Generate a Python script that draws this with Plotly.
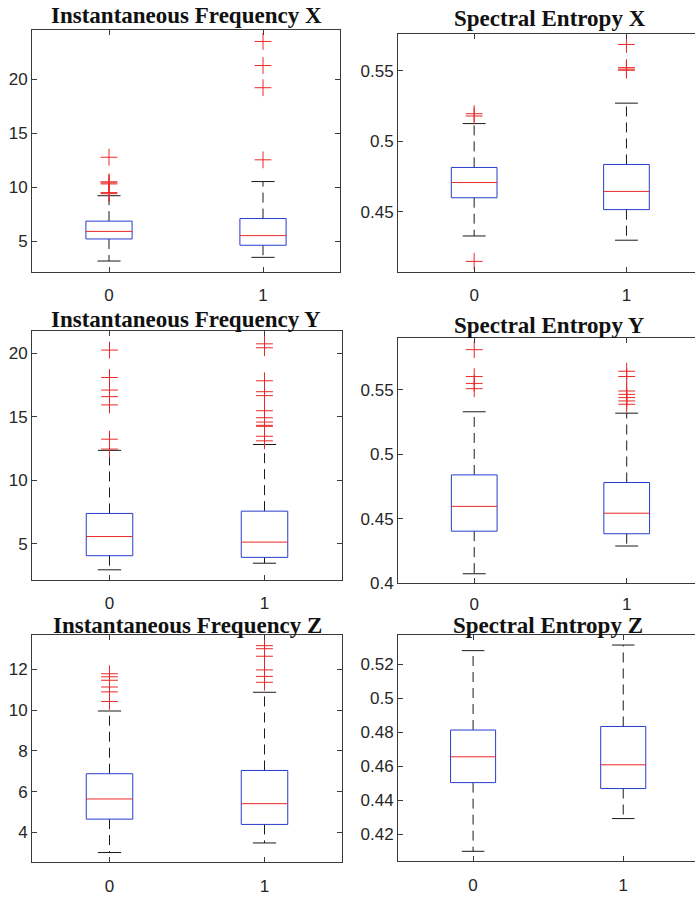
import plotly.graph_objects as go

W, H = 695, 899

titles = ["Instantaneous Frequency X", "Spectral Entropy X",
          "Instantaneous Frequency Y", "Spectral Entropy Y",
          "Instantaneous Frequency Z", "Spectral Entropy Z"]
groups = [0, 1]
group_labels = ["0", "1"]

# per panel: [group0, group1]
q1 = [[5.21, 4.63], [0.4598, 0.4514], [4.06, 3.93], [0.4405, 0.4385], [4.65, 4.39], [0.4504, 0.4469]]
med = [[5.91, 5.52], [0.4706, 0.4643], [5.57, 5.13], [0.4597, 0.4544], [5.64, 5.41], [0.4656, 0.4609]]
q3 = [[6.86, 7.10], [0.4813, 0.4834], [7.39, 7.57], [0.4841, 0.4782], [6.88, 7.04], [0.4814, 0.4835]]
lo_whisk = [[3.17, 3.51], [0.4327, 0.4297], [2.95, 3.47], [0.4075, 0.4290], [3.01, 3.48], [0.4099, 0.4292]]
hi_whisk = [[9.21, 10.52], [0.5124, 0.5269], [12.36, 12.82], [0.5330, 0.5319], [9.96, 10.88], [0.5282, 0.5315]]
outliers = [
    [[12.77, 10.5, 10.4, 10.3, 9.5, 9.4], [23.48, 21.25, 19.2, 12.53]],
    [[0.5194, 0.5178, 0.4147], [0.5685, 0.5521, 0.5510, 0.5502]],
    [[20.26, 18.1, 17.11, 16.59, 15.94, 13.24, 12.46],
     [20.75, 20.44, 17.84, 16.98, 16.67, 15.48, 14.93, 14.59, 14.33, 14.25, 13.47, 13.11]],
    [[0.5811, 0.5603, 0.5550, 0.5509], [0.5644, 0.5603, 0.5491, 0.5465, 0.5440, 0.5414, 0.5388]],
    [[11.79, 11.64, 11.47, 11.14, 10.9, 10.43], [13.17, 13.02, 12.65, 11.98, 11.66, 11.37]],
    [[], []],
]
y_ranges = [[2.16, 24.57], [0.4072, 0.5762], [2.11, 21.74], [0.400, 0.590], [2.53, 13.70], [0.404, 0.5375]]
y_tickvals = [[5, 10, 15, 20], [0.45, 0.5, 0.55], [5, 10, 15, 20], [0.4, 0.45, 0.5, 0.55],
              [4, 6, 8, 10, 12], [0.42, 0.44, 0.46, 0.48, 0.5, 0.52]]
y_ticktext = [["5", "10", "15", "20"], ["0.45", "0.5", "0.55"], ["5", "10", "15", "20"],
              ["0.4", "0.45", "0.5", "0.55"], ["4", "6", "8", "10", "12"],
              ["0.42", "0.44", "0.46", "0.48", "0.5", "0.52"]]

# layout geometry (pixels)
px_boxes = [  # left, right, top, bottom
    (32, 340, 30, 275), (398, 695, 34, 275),
    (32, 342, 335, 587), (398, 695, 342, 590),
    (32, 342, 642, 872), (398, 695, 642, 871),
]
x_ranges = [[-0.5, 1.5], [-0.5, 1.45], [-0.5, 1.5], [-0.5, 1.448], [-0.5, 1.5], [-0.5, 1.478]]
title_pos = [(186, 16), (550, 19), (186, 323.5), (549, 329.5), (187, 633), (548, 633)]
label_standoff = [8, 8, 7, 5, 8, 8]

BW = 0.15   # box half-width
CW = 0.075  # cap half-width
BLUE = "rgb(40,60,205)"
RED = "rgb(235,40,40)"
BLACK = "#1a1a1a"
AXC = "#3a3a3a"

fig = go.Figure()
layout = {}
annotations = []
for i in range(6):
    xa = "x" if i == 0 else f"x{i+1}"
    ya = "y" if i == 0 else f"y{i+1}"
    l, r, t, b = px_boxes[i]
    for g in range(2):
        p = groups[g]
        # whiskers
        fig.add_trace(go.Scatter(x=[p, p, None, p, p],
                                 y=[q3[i][g], hi_whisk[i][g], None, q1[i][g], lo_whisk[i][g]],
                                 mode="lines", line=dict(color=BLACK, width=1, dash="10px,6px"),
                                 xaxis=xa, yaxis=ya, showlegend=False, hoverinfo="skip"))
        # caps
        fig.add_trace(go.Scatter(x=[p - CW, p + CW, None, p - CW, p + CW],
                                 y=[hi_whisk[i][g]] * 2 + [None] + [lo_whisk[i][g]] * 2,
                                 mode="lines", line=dict(color=BLACK, width=1),
                                 xaxis=xa, yaxis=ya, showlegend=False, hoverinfo="skip"))
        # box
        fig.add_trace(go.Scatter(x=[p - BW, p + BW, p + BW, p - BW, p - BW],
                                 y=[q1[i][g], q1[i][g], q3[i][g], q3[i][g], q1[i][g]],
                                 mode="lines", line=dict(color=BLUE, width=1),
                                 xaxis=xa, yaxis=ya, showlegend=False, hoverinfo="skip"))
        # median
        fig.add_trace(go.Scatter(x=[p - BW, p + BW], y=[med[i][g]] * 2,
                                 mode="lines", line=dict(color=RED, width=1),
                                 xaxis=xa, yaxis=ya, showlegend=False, hoverinfo="skip"))
        # outliers
        if outliers[i][g]:
            fig.add_trace(go.Scatter(x=[p] * len(outliers[i][g]), y=outliers[i][g],
                                     mode="markers",
                                     marker=dict(symbol="cross-thin", size=12,
                                                 line=dict(color=RED, width=1)),
                                     xaxis=xa, yaxis=ya, showlegend=False, hoverinfo="skip"))
    right_col = (i % 2 == 1)
    layout["xaxis" if i == 0 else f"xaxis{i+1}"] = dict(
        domain=[l / W, r / W], range=x_ranges[i], anchor=ya,
        tickvals=groups, ticktext=group_labels, ticks="inside", ticklen=5,
        tickcolor=AXC, showline=True, linecolor=AXC, linewidth=1, mirror="ticks",
        showgrid=False, zeroline=False, ticklabelstandoff=label_standoff[i],
        tickfont=dict(family="Liberation Sans", size=17, color="#262626"),
        fixedrange=True)
    layout["yaxis" if i == 0 else f"yaxis{i+1}"] = dict(
        domain=[1 - b / H, 1 - t / H], range=y_ranges[i], anchor=xa,
        tickvals=y_tickvals[i], ticktext=y_ticktext[i], ticks="inside", ticklen=5,
        tickcolor=AXC, showline=True, linecolor=AXC, linewidth=1,
        mirror=False if right_col else "ticks",
        showgrid=False, zeroline=False,
        tickfont=dict(family="Liberation Sans", size=17, color="#262626"),
        fixedrange=True)
    tx, ty = title_pos[i]
    annotations.append(dict(text=f"<b>{titles[i]}</b>", x=tx / W, y=1 - ty / H,
                            xref="paper", yref="paper", xanchor="center", yanchor="middle",
                            showarrow=False,
                            font=dict(family="Liberation Serif", size=23, color="#111111")))

fig.update_layout(**layout)
fig.update_layout(width=W, height=H, margin=dict(l=0, r=0, t=0, b=0),
                  paper_bgcolor="white", plot_bgcolor="white",
                  annotations=annotations, showlegend=False)
fig.write_html("out.html", config={"displayModeBar": False},
               post_script="document.body.style.margin='0px';document.body.style.overflow='hidden';")
